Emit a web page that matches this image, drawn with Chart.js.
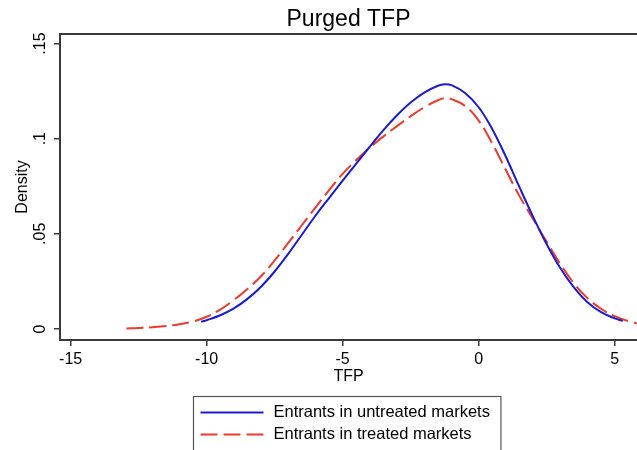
<!DOCTYPE html>
<html>
<head>
<meta charset="utf-8">
<script src="https://cdn.jsdelivr.net/npm/chart.js@4/dist/chart.umd.min.js"></script>
<style>
  html, body { margin: 0; padding: 0; background: #ffffff; }
  #wrap { width: 637px; height: 450px; position: relative; }
</style>
</head>
<body>
<div id="wrap"><canvas id="c" width="637" height="450"></canvas></div>
<script>
// ---- Data ----
const chartTitle = "Purged TFP";
const xAxisTitle = "TFP";
const yAxisTitle = "Density";
const seriesNames = ["Entrants in untreated markets", "Entrants in treated markets"];

const xTickValues = [-15, -10, -5, 0, 5];
const yTickValues = [0, 0.05, 0.1, 0.15];
const yTickLabels = ["0", ".05", ".1", ".15"];

const untreatedX = [-10.2,-10,-9.5,-9,-8.5,-8,-7.5,-7,-6.5,-6,-5.5,-5,-4.5,-4,-3.5,-3,-2.5,-2,-1.5,-1.25,-1,-0.5,0,0.5,1,1.5,2,2.5,3,3.5,4,4.5,5,5.3];
const untreatedY = [0.0038,0.0046,0.0072,0.0108,0.0158,0.0222,0.0302,0.0395,0.0495,0.0595,0.0688,0.0779,0.0869,0.0958,0.1045,0.1123,0.119,0.1242,0.1278,0.1286,0.1281,0.124,0.1165,0.105,0.0905,0.0745,0.059,0.0445,0.032,0.0218,0.014,0.0088,0.0056,0.0043];

const treatedX = [-12.95,-12.5,-12,-11.5,-11,-10.5,-10,-9.5,-9,-8.5,-8,-7.5,-7,-6.5,-6,-5.5,-5,-4.5,-4,-3.5,-3,-2.5,-2,-1.5,-1.25,-1,-0.5,0,0.5,1,1.5,2,2.5,3,3.5,4,4.5,5,5.5,6];
const treatedY = [0.0003,0.0005,0.0009,0.0015,0.0025,0.0039,0.0064,0.0102,0.0152,0.021,0.0277,0.036,0.0452,0.0545,0.0638,0.0729,0.0815,0.0888,0.0953,0.1012,0.1066,0.1118,0.1165,0.1202,0.1213,0.1208,0.1172,0.1095,0.0975,0.0835,0.0698,0.0578,0.0458,0.0342,0.024,0.0162,0.0106,0.0067,0.0041,0.0024];

const xMin = -15.39, xMax = 5.82;
const yMin = -0.0058, yMax = 0.155;

// ---- Styles ----
const FONT = "'Liberation Sans', Arial, Helvetica, sans-serif";
const AXIS_COLOR = '#3a3a3a';
const BLUE = '#1a1ad2';
const RED = '#ee3a2c';

Chart.defaults.font.family = FONT;
Chart.defaults.color = '#000';

const toPts = (xs, ys) => xs.map((x, i) => ({ x: x, y: ys[i] }));

const legendPlugin = {
  id: 'stataLegend',
  afterDraw(chart) {
    const ctx = chart.ctx;
    const ca = chart.chartArea;
    ctx.save();
    ctx.font = '16.5px ' + FONT;
    const sample = 63, gapTxt = 10, pad = 7;
    let tw = 0;
    chart.data.datasets.forEach(ds => { tw = Math.max(tw, ctx.measureText(ds.label).width); });
    const w = pad + sample + gapTxt + tw + pad;
    const cx = (ca.left + ca.right) / 2 - 4;
    const left = Math.round(cx - w / 2) + 0.5;
    const top = 396.5;
    ctx.strokeStyle = '#555';
    ctx.lineWidth = 1.2;
    ctx.strokeRect(left, top, w + 4, 80);
    chart.data.datasets.forEach((ds, i) => {
      const y = 412.5 + i * 22;
      ctx.beginPath();
      ctx.strokeStyle = ds.borderColor;
      ctx.lineWidth = ds.borderWidth;
      ctx.setLineDash(ds.borderDash || []);
      ctx.moveTo(left + pad, y);
      ctx.lineTo(left + pad + sample, y);
      ctx.stroke();
      ctx.setLineDash([]);
      ctx.fillStyle = '#000';
      ctx.textAlign = 'left';
      ctx.textBaseline = 'middle';
      ctx.fillText(ds.label, left + pad + sample + gapTxt, y);
    });
    ctx.restore();
  }
};

new Chart(document.getElementById('c'), {
  type: 'line',
  data: {
    datasets: [
      {
        label: seriesNames[0],
        data: toPts(untreatedX, untreatedY),
        borderColor: BLUE,
        borderWidth: 2,
        pointRadius: 0,
        tension: 0.4,
        fill: false
      },
      {
        label: seriesNames[1],
        data: toPts(treatedX, treatedY),
        borderColor: RED,
        borderWidth: 2,
        borderDash: [17, 6],
        pointRadius: 0,
        tension: 0.4,
        fill: false
      }
    ]
  },
  options: {
    responsive: false,
    animation: false,
    devicePixelRatio: 1,
    layout: { padding: { left: 0, right: 0, top: 0, bottom: 64 } },
    plugins: {
      legend: { display: false },
      title: { display: false },
      tooltip: { enabled: false }
    },
    scales: {
      x: {
        type: 'linear',
        position: 'bottom',
        min: xMin, max: xMax,
        afterBuildTicks: s => { s.ticks = xTickValues.map(v => ({ value: v })); },
        afterFit: s => { s.height = 46; },
        ticks: {
          autoSkip: false, maxRotation: 0, minRotation: 0,
          padding: 4, color: '#000',
          font: { size: 16 },
          callback: v => String(v)
        },
        grid: { drawOnChartArea: false, drawTicks: true, tickLength: 6, color: AXIS_COLOR, lineWidth: 1.5 },
        border: { display: true, color: AXIS_COLOR, width: 2 },
        title: { display: true, text: xAxisTitle, color: '#000', font: { size: 16 }, padding: { top: 0, bottom: 0 } }
      },
      xTop: {
        type: 'linear',
        position: 'top',
        min: xMin, max: xMax,
        afterFit: s => { s.height = 34; },
        ticks: { display: false },
        grid: { display: true, drawOnChartArea: false, drawTicks: false },
        border: { display: true, color: AXIS_COLOR, width: 2 },
        title: { display: true, text: chartTitle, color: '#000', font: { size: 23 }, padding: { top: 5.5, bottom: 0 } }
      },
      y: {
        type: 'linear',
        position: 'left',
        min: yMin, max: yMax,
        afterBuildTicks: s => { s.ticks = yTickValues.map(v => ({ value: v })); },
        afterFit: s => { s.width = 60; },
        ticks: {
          autoSkip: false, minRotation: 90, maxRotation: 90,
          crossAlign: 'center',
          padding: 2, color: '#000',
          font: { size: 16 },
          callback: (v) => {
            const i = yTickValues.findIndex(t => Math.abs(t - v) < 1e-9);
            return i >= 0 ? yTickLabels[i] : '';
          }
        },
        grid: { drawOnChartArea: false, drawTicks: true, tickLength: 6, color: AXIS_COLOR, lineWidth: 1.5 },
        border: { display: true, color: AXIS_COLOR, width: 2 },
        title: { display: true, text: yAxisTitle, color: '#000', font: { size: 16 }, padding: { top: 13, bottom: 0 } }
      }
    }
  },
  plugins: [legendPlugin]
});
</script>
</body>
</html>
